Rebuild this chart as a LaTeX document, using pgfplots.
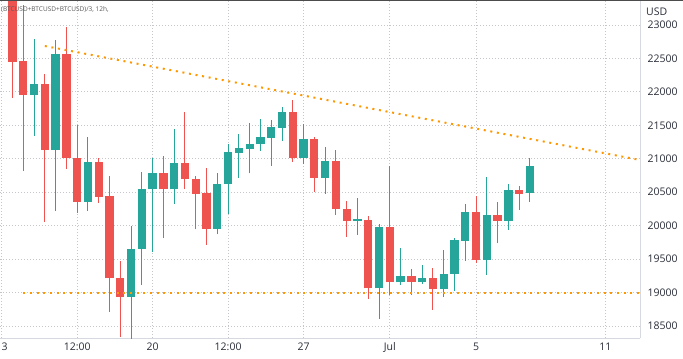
\documentclass[border=0pt]{standalone}
\usepackage{pgfplots}
\pgfplotsset{compat=1.18}
\usepackage{pgfplotstable}
\usepackage{fontspec}
\setmainfont{Open Sans}
\definecolor{cup}{HTML}{26A69A}
\definecolor{cdn}{HTML}{EF5350}
\definecolor{tline}{HTML}{FF9800}
\definecolor{gridc}{HTML}{C4C6CC}
\definecolor{axc}{HTML}{D6D9E0}
\definecolor{txt}{HTML}{2A2E39}

% down (red) candles: index open high low close
\pgfplotstableread{
i o h l c
0 23420 23500 21913 22451
1 22462 23299 20818 21954
3 22118 22268 20060 21131
5 22567 22966 20843 21017
6 21012 21505 20194 20359
8 20948 21012 20344 20429
9 20444 20743 18710 19214
10 19218 19472 18330 18939
14 20783 21046 19812 20544
16 20937 21704 20544 20694
17 20698 20743 19946 20478
18 20493 20867 19716 19955
26 21700 21879 20957 21017
28 21291 21330 20499 20713
30 20971 21127 20164 20245
31 20250 20369 19831 20075
33 20090 20145 18909 19064
35 19980 20892 18960 19154
37 19248 19353 18969 19163
39 19218 19368 18740 19054
43 20205 20444 19442 19487
45 20160 20354 19741 20075
47 20538 20598 20235 20478
}\down

% up (teal) candles: index open high low close
\pgfplotstableread{
i o h l c
2 21954 22791 21341 22118
4 21131 22776 20224 22567
7 20359 21330 20224 20948
11 18939 19995 18300 19656
12 19656 20798 19118 20549
13 20544 21007 19607 20783
15 20544 21441 20329 20937
19 19955 20788 19871 20623
20 20623 21217 20170 21102
21 21091 21371 20718 21157
22 21146 21531 20783 21217
23 21217 21590 21117 21326
24 21315 21575 20897 21475
25 21465 21779 21271 21700
27 21017 21516 20918 21291
29 20713 21181 20478 20971
32 20075 20410 19865 20096
34 19064 20021 18610 19980
36 19154 19662 19114 19248
38 19158 19412 19133 19218
40 19054 19641 18939 19283
41 19278 19816 19024 19786
42 19776 20324 19477 20205
44 19487 20728 19263 20160
46 20075 20628 19936 20538
48 20489 21007 20354 20892
}\up

\begin{document}
\begin{tikzpicture}
\begin{axis}[
  at={(0,0)}, anchor=south west,
  scale only axis, width=640bp, height=338bp,
  xmin=-1.16, xmax=58.21, ymin=18321, ymax=23374,
  axis x line*=bottom, axis y line*=right,
  axis line style={draw=axc, line width=0.8bp},
  xtick={-1,6,13,20,27,35,43,55},
  xticklabels={\phantom{1}3,12:00,20,12:00,27,Jul,5,11},
  ytick={18500,19000,...,23000},
  scaled y ticks=false,
  major tick length=0pt,
  grid=major,
  major grid style={draw=gridc, line width=0.8bp, dash pattern=on 1bp off 2bp},
  /pgf/number format/assume math mode=true,
  /pgf/number format/1000 sep={},
  tick label style={font=\fontsize{10.5bp}{12bp}\selectfont, text=txt},
  yticklabel style={anchor=west, xshift=4bp},
  xticklabel style={anchor=north, yshift=-1bp},
]
% wicks
\addplot[draw=none, mark=none, forget plot, error bars/.cd, y dir=plus, y explicit, error mark=none,
  error bar style={draw=cdn, line width=1bp}]
  table[x=i, y=l, y error plus expr=\thisrow{h}-\thisrow{l}] {\down};
\addplot[draw=none, mark=none, forget plot, error bars/.cd, y dir=plus, y explicit, error mark=none,
  error bar style={draw=cup, line width=1bp}]
  table[x=i, y=l, y error plus expr=\thisrow{h}-\thisrow{l}] {\up};
% bodies
\addplot[draw=none, mark=none, forget plot, error bars/.cd, y dir=plus, y explicit, error mark=none,
  error bar style={draw=cdn, line width=8.3bp}]
  table[x=i, y=c, y error plus expr=\thisrow{o}-\thisrow{c}] {\down};
\addplot[draw=none, mark=none, forget plot, error bars/.cd, y dir=plus, y explicit, error mark=none,
  error bar style={draw=cup, line width=8.3bp}]
  table[x=i, y=o, y error plus expr=\thisrow{c}-\thisrow{o}] {\up};
% trend lines
\addplot[tline, line width=2bp, dash pattern=on 2bp off 4.67bp] coordinates {(3,22686) (58.21,20982)};
\addplot[tline, line width=2bp, dash pattern=on 2bp off 4.67bp] coordinates {(1,18990) (58.21,18990)};
\end{axis}
\fill[black!70] (0,336.5bp) rectangle (683bp,338bp);
\node[anchor=west, inner sep=0, font=\fontsize{10.5bp}{12bp}\selectfont, text=txt] at (646bp,326bp) {USD};
\node[anchor=west, inner sep=0, font=\fontsize{6.5bp}{8bp}\selectfont, text=black!65] at (1bp,328bp) {(BTCUSD+BTCUSD+BTCUSD)/3, 12h,};
\pgfresetboundingbox
\useasboundingbox (0,-21bp) rectangle (683bp,338bp);
\end{tikzpicture}
\end{document}
